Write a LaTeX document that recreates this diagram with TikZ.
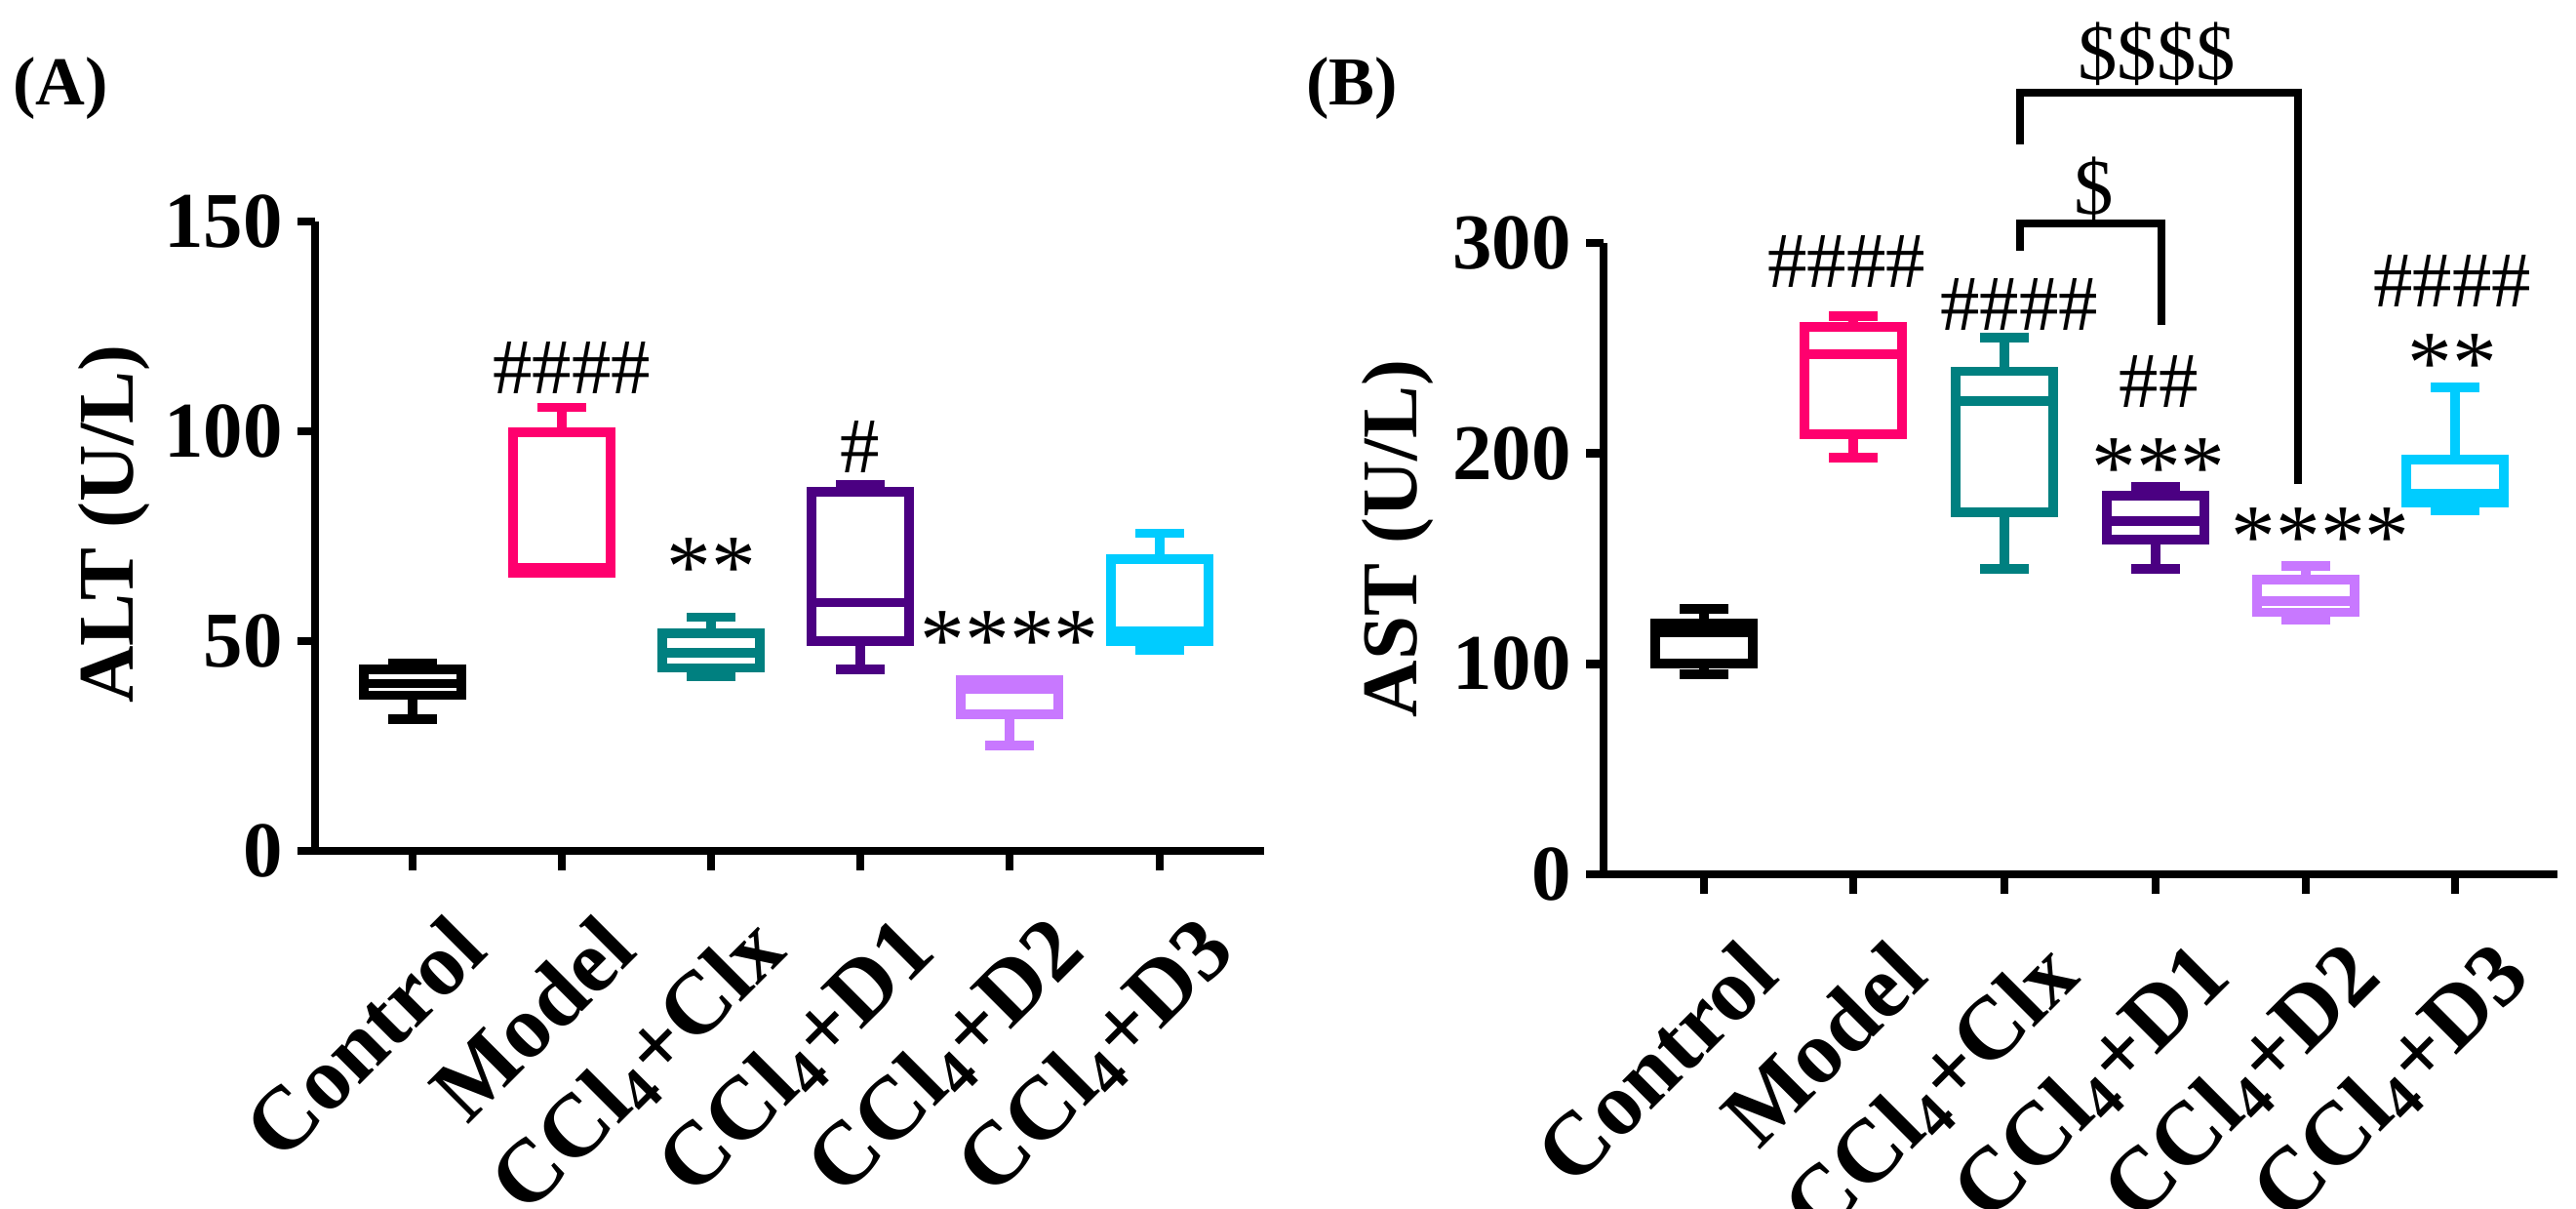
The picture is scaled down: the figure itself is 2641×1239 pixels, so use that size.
\documentclass[tikz,border=0pt]{standalone}
\usepackage{fontspec}
\setmainfont{Liberation Serif}
\begin{document}
\begin{tikzpicture}[x=0.01cm,y=-0.01cm,
  bp/.style={line width=2.8pt},
  ax/.style={line width=2.4pt},
  tl/.style={font=\fontsize{23}{23}\selectfont\bfseries,anchor=east},
  cat/.style={font=\fontsize{26}{26}\selectfont\bfseries,anchor=north east,rotate=45,inner sep=0pt},
  ann/.style={font=\fontsize{23}{23}\selectfont},
  ast/.style={font=\fontsize{26}{26}\selectfont},
  ttl/.style={font=\fontsize{23}{23}\selectfont\bfseries,rotate=90},
  pnl/.style={font=\fontsize{20}{20}\selectfont\bfseries}]
\definecolor{cpink}{RGB}{255,0,110}
\definecolor{cteal}{RGB}{0,128,128}
\definecolor{cpurp}{RGB}{75,0,130}
\definecolor{clav}{RGB}{200,120,255}
\definecolor{ccyan}{RGB}{0,204,255}
\useasboundingbox (0,0) rectangle (2641,1239);
\newcommand\bxw[7]{%
 \draw[bp,#7] (#1-25,#2) -- (#1+25,#2) (#1,#2) -- (#1,#3) (#1,#5) -- (#1,#6) (#1-25,#6) -- (#1+25,#6);
 \draw[bp,#7] (#1-50,#3) rectangle (#1+50,#5);
 \draw[bp,#7] (#1-50,#4) -- (#1+50,#4);}
% ---------- Panel A
\node[pnl] (pa) at (62,91) {(A)};
\node[ttl] (ya) at (117,537) {ALT (U/L)};
\begin{scope}[shift={(0,872)},yscale=-4.30]
 \draw[ax] (323,150) -- (323,0) -- (1296,0);
 \foreach \v in {0,50,100,150}{\draw[ax] (305,\v) -- (323,\v); \node[tl] at (302,\v) {\v};}
 \foreach \x in {423,576,729,882,1035,1189}{\draw[ax] (\x,0) -- (\x,-4.6);}
 \bxw{423}{31.3}{37.1}{39.9}{43.2}{44.7}{black}
 \bxw{576}{66.2}{66.2}{67.5}{99.8}{105.7}{cpink}
 \bxw{729}{41.7}{43.6}{47.2}{51.8}{55.7}{cteal}
 \bxw{882}{43.2}{50}{59.2}{85.5}{87.3}{cpurp}
 \bxw{1035}{25.2}{32.5}{38.6}{40.8}{40.8}{clav}
 \bxw{1189}{47.8}{50}{52.4}{69.5}{75.7}{ccyan}
\end{scope}
\node[ann] (a1) at (586,377) {\#\#\#\#};
\node[ast] (a2) at (729,582) {**};
\node[ann] (a3) at (882,458) {\#};
\node[ast] (a4) at (1035,657) {****};
\foreach \x/\t in {423/Control,576/Model,729/CCl\textsubscript{4}+Clx,882/CCl\textsubscript{4}+D1,1035/CCl\textsubscript{4}+D2,1189/CCl\textsubscript{4}+D3}
  \node[cat] at (\x+35,932) {\t};
% ---------- Panel B
\node[pnl] (pb) at (1386,91) {(B)};
\node[ttl] (yb) at (1433,552) {AST (U/L)};
\begin{scope}[shift={(0,896)},yscale=-2.157]
 \draw[ax] (1644,300) -- (1644,0) -- (2622,0);
 \foreach \v in {0,100,200,300}{\draw[ax] (1626,\v) -- (1644,\v); \node[tl] at (1623,\v) {\v};}
 \foreach \x in {1747,1900,2055,2210,2364,2517}{\draw[ax] (\x,0) -- (\x,-9.2);}
 \bxw{1747}{95}{100}{115}{119}{126}{black}
 \bxw{1900}{198}{209}{247}{260}{265}{cpink}
 \bxw{2055}{145}{172}{225}{239}{255}{cteal}
 \bxw{2210}{145}{159}{168}{180}{184}{cpurp}
 \bxw{2364}{121}{124.5}{130}{140}{146.5}{clav}
 \bxw{2517}{173}{176.5}{181}{197}{231.5}{ccyan}
\end{scope}
\node[ann] (b1) at (1893,268) {\#\#\#\#};
\node[ann] (b2) at (2070,312) {\#\#\#\#};
\node[ann] (b3) at (2213,391) {\#\#};
\node[ast] (b4) at (2213,480) {***};
\node[ast] (b5) at (2379,551) {****};
\node[ann] (b6) at (2514,288) {\#\#\#\#};
\node[ast] (b7) at (2514,373) {**};
\coordinate (s1a) at (2071,148); \coordinate (s1b) at (2356,496);
\draw[ax] (s1a) -- (2071,95) -- (2356,95) -- (s1b);
\node[ann] (s1) at (2211,55) {\$\$\$\$};
\coordinate (s2a) at (2071,257); \coordinate (s2b) at (2216,333);
\draw[ax] (s2a) -- (2071,229) -- (2216,229) -- (s2b);
\node[ann] (s2) at (2147,193) {\$};
\foreach \x/\t in {1747/Control,1900/Model,2055/CCl\textsubscript{4}+Clx,2210/CCl\textsubscript{4}+D1,2364/CCl\textsubscript{4}+D2,2517/CCl\textsubscript{4}+D3}
  \node[cat] at (\x+35,958) {\t};
\end{tikzpicture}
\end{document}
